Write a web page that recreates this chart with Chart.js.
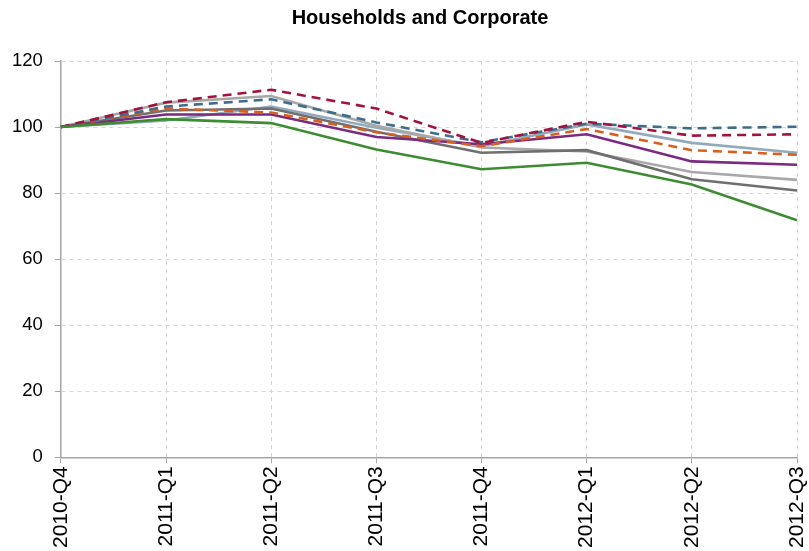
<!DOCTYPE html>
<html>
<head>
<meta charset="utf-8">
<script src="https://cdn.jsdelivr.net/npm/chart.js@4"></script>
<style>
  html, body { margin: 0; padding: 0; background: #fff; }
  #wrap { width: 809px; height: 551px; }
</style>
</head>
<body>
<div id="wrap"><canvas id="myChart" width="809" height="551"></canvas></div>
<script>
var quarters = ["2010-Q4", "2011-Q1", "2011-Q2", "2011-Q3", "2011-Q4", "2012-Q1", "2012-Q2", "2012-Q3"];

var redDashed    = [100, 107.5, 111.3, 105.6, 95.2, 101.6, 97.4, 97.8];
var blueDashed   = [100, 106.2, 108.4, 101.4, 95.4, 101.0, 99.6, 100.1];
var orangeDashed = [100, 105.6, 104.4, 98.4, 94.2, 99.4, 93.0, 91.6];
var purpleLine   = [100, 103.8, 103.8, 97.0, 94.8, 97.8, 89.6, 88.6];
var steelLine    = [100, 102.0, 106.2, 99.8, 94.2, 100.8, 95.2, 92.2];
var lightGrey    = [100, 107.4, 109.4, 100.4, 93.8, 92.6, 86.4, 84.0];
var darkGrey     = [100, 105.0, 105.6, 98.6, 92.2, 93.0, 84.2, 80.8];
var greenLine    = [100, 102.4, 101.2, 93.2, 87.2, 89.2, 82.6, 71.8];

var yTicks = [0, 20, 40, 60, 80, 100, 120];
var chartTitle = "Households and Corporate";

var fontFamily = "'Liberation Sans', Arial, sans-serif";

function line(data, color, dashed) {
  return {
    data: data,
    borderColor: color,
    backgroundColor: color,
    borderWidth: 2.6,
    borderDash: dashed ? [9, 6] : [],
    pointRadius: 0,
    tension: 0,
    fill: false
  };
}

// title drawn by hand so it sits where the original has it
var titlePlugin = {
  id: 'topTitle',
  afterDraw: function(chart) {
    var c = chart.ctx;
    c.save();
    c.font = "bold 20px " + fontFamily;
    c.fillStyle = "#000";
    c.textAlign = "center";
    c.textBaseline = "middle";
    c.fillText(chartTitle, 420, 18);
    c.restore();
  }
};

var ctx = document.getElementById("myChart").getContext('2d');
var myChart = new Chart(ctx, {
  type: 'line',
  data: {
    labels: quarters,
    datasets: [
      line(greenLine, "#3d8c32", false),
      line(redDashed, "#a3123c", true),
      line(blueDashed, "#3f6e8c", true),
      line(orangeDashed, "#d8601f", true),
      line(purpleLine, "#7a2a80", false),
      line(darkGrey, "#6f6f70", false),
      line(lightGrey, "#a8a8a8", false),
      line(steelLine, "#93aabd", false)
    ]
  },
  options: {
    responsive: false,
    animation: false,
    layout: { padding: { left: 0, right: 0, top: 61, bottom: 0 } },
    plugins: {
      legend: { display: false },
      tooltip: { enabled: false },
      title: { display: false }
    },
    scales: {
      x: {
        offset: false,
        afterFit: function(scale) {
          scale.paddingLeft = 0;
          scale.paddingRight = 12;
        },
        grid: {
          color: "#d6d6d6",
          tickColor: "#a6a6a6",
          tickLength: 6
        },
        border: { color: "#a6a6a6", width: 1.5, dash: [4, 4] },
        ticks: {
          color: "#000",
          minRotation: 90,
          maxRotation: 90,
          padding: 3,
          font: { family: fontFamily, size: 21 }
        }
      },
      y: {
        min: 0,
        max: 120,
        afterBuildTicks: function(axis) {
          axis.ticks = yTicks.map(function(v) { return { value: v }; });
        },
        grid: {
          color: "#d6d6d6",
          tickColor: "#a6a6a6",
          tickLength: 6
        },
        border: { color: "#a6a6a6", width: 1.5, dash: [4, 4] },
        ticks: {
          color: "#000",
          padding: 12,
          font: { family: fontFamily, size: 18.5 }
        }
      }
    }
  },
  plugins: [titlePlugin]
});
</script>
</body>
</html>
